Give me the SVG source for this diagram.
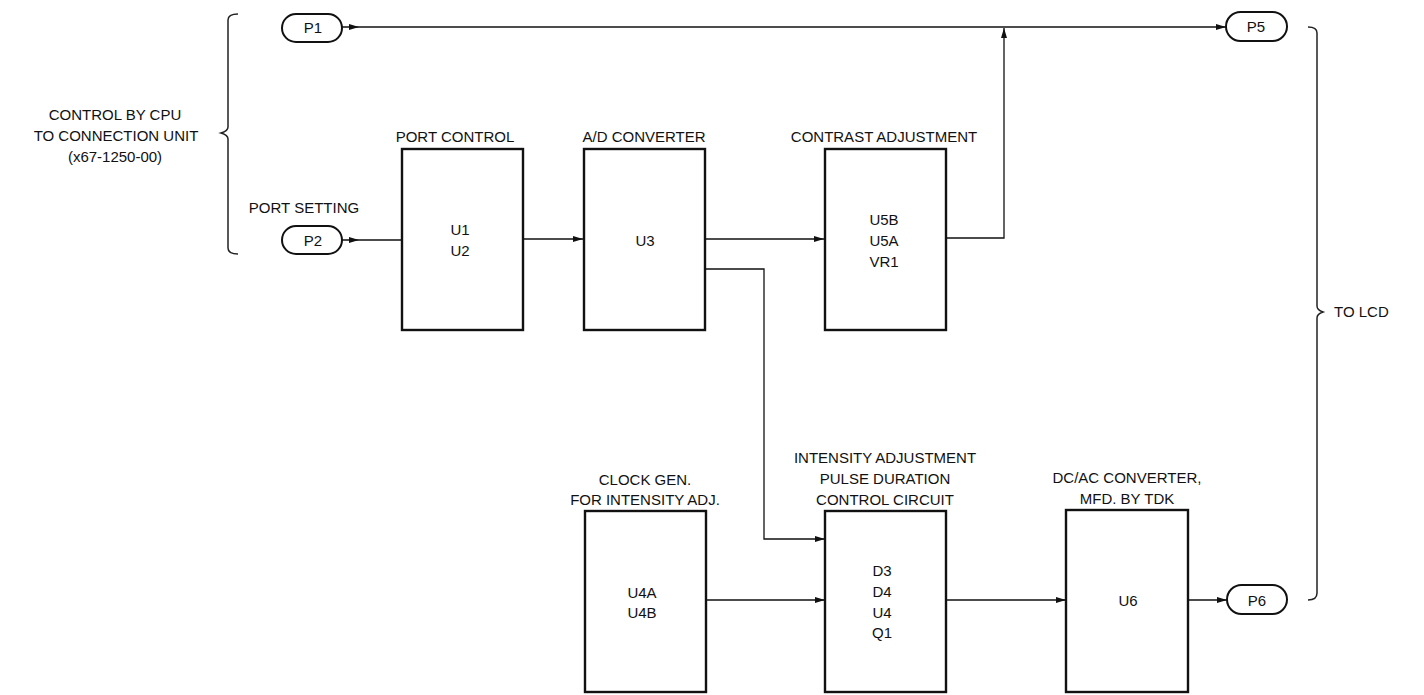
<svg xmlns="http://www.w3.org/2000/svg" width="1424" height="695" viewBox="0 0 1424 695">
<defs>
<style>
text{font-family:"Liberation Sans",Arial,sans-serif;font-size:15px;fill:#111;}
.c{text-anchor:middle;}
.box{fill:#fff;stroke:#111;stroke-width:2.4;}
.pill{fill:#fff;stroke:#111;stroke-width:2;}
.w{fill:none;stroke:#111;stroke-width:1.3;}
.br{fill:none;stroke:#222;stroke-width:1.5;}
</style>
<marker id="ah" viewBox="0 0 10 6" refX="10" refY="3" markerWidth="10" markerHeight="6" markerUnits="userSpaceOnUse" orient="auto">
<path d="M0,0 L10,3 L0,6 Z" fill="#111"/>
</marker>
</defs>
<rect width="1424" height="695" fill="#fff"/>

<g id="connectors">
<path class="w" d="M342,27 H359 H1226" marker-mid="url(#ah)" marker-end="url(#ah)"/>
<path class="w" d="M342,240 H359 H402" marker-mid="url(#ah)"/>
<path class="w" d="M523,239 H583" marker-end="url(#ah)"/>
<path class="w" d="M705,239 H824" marker-end="url(#ah)"/>
<path class="w" d="M946,238 H1004 V28" marker-end="url(#ah)"/>
<path class="w" d="M705,269 H764 V539 H825" marker-end="url(#ah)"/>
<path class="w" d="M706,600 H825" marker-end="url(#ah)"/>
<path class="w" d="M946,600 H1066" marker-end="url(#ah)"/>
<path class="w" d="M1188,600 H1227" marker-end="url(#ah)"/>
</g>

<g id="left-brace">
<path class="br" d="M238,14 Q228,14 228,20 V127 Q228,131 221,133 Q228,135 228,139 V248 Q228,254 238,254"/>
<text class="c" x="115" y="120">CONTROL BY CPU</text>
<text class="c" x="116" y="141">TO CONNECTION UNIT</text>
<text class="c" x="115" y="162">(x67-1250-00)</text>
</g>

<g id="right-brace">
<path class="br" d="M1308,27 Q1317,27 1317,33 V306 Q1317,310 1323,312 Q1317,314 1317,318 V593 Q1317,600 1308,600"/>
<text x="1334" y="317">TO LCD</text>
</g>

<g id="P1">
<rect class="pill" x="282" y="14" width="60" height="28" rx="14"/>
<text class="c" x="313" y="33">P1</text>
</g>
<g id="P2">
<rect class="pill" x="282" y="226" width="60" height="28" rx="14"/>
<text class="c" x="313" y="246">P2</text>
<text class="c" x="304" y="213">PORT SETTING</text>
</g>
<g id="P5">
<rect class="pill" x="1226" y="12" width="61" height="29" rx="14.5"/>
<text class="c" x="1256" y="32">P5</text>
</g>
<g id="P6">
<rect class="pill" x="1227" y="585" width="60" height="29" rx="14.5"/>
<text class="c" x="1257" y="606">P6</text>
</g>

<g id="port-control">
<text class="c" x="455" y="142">PORT CONTROL</text>
<rect class="box" x="402" y="149" width="121" height="181"/>
<text class="c" x="460" y="235">U1</text>
<text class="c" x="460" y="256">U2</text>
</g>

<g id="ad-converter">
<text class="c" x="644" y="142">A/D CONVERTER</text>
<rect class="box" x="584" y="149" width="121" height="181"/>
<text class="c" x="645" y="246">U3</text>
</g>

<g id="contrast-adjustment">
<text class="c" x="884" y="142">CONTRAST ADJUSTMENT</text>
<rect class="box" x="825" y="149" width="121" height="181"/>
<text class="c" x="884" y="225">U5B</text>
<text class="c" x="884" y="246">U5A</text>
<text class="c" x="884" y="267">VR1</text>
</g>

<g id="clock-gen">
<text class="c" x="645" y="485">CLOCK GEN.</text>
<text class="c" x="645" y="505">FOR INTENSITY ADJ.</text>
<rect class="box" x="585" y="511" width="121" height="181"/>
<text class="c" x="642" y="598">U4A</text>
<text class="c" x="642" y="618">U4B</text>
</g>

<g id="intensity-adjustment">
<text class="c" x="885" y="463">INTENSITY ADJUSTMENT</text>
<text class="c" x="885" y="484">PULSE DURATION</text>
<text class="c" x="885" y="505">CONTROL CIRCUIT</text>
<rect class="box" x="825" y="511" width="121" height="181"/>
<text class="c" x="882" y="576">D3</text>
<text class="c" x="882" y="597">D4</text>
<text class="c" x="882" y="618">U4</text>
<text class="c" x="882" y="638">Q1</text>
</g>

<g id="dcac-converter">
<text class="c" x="1127" y="483">DC/AC CONVERTER,</text>
<text class="c" x="1127" y="504">MFD. BY TDK</text>
<rect class="box" x="1066" y="510" width="122" height="182"/>
<text class="c" x="1128" y="606">U6</text>
</g>
</svg>
